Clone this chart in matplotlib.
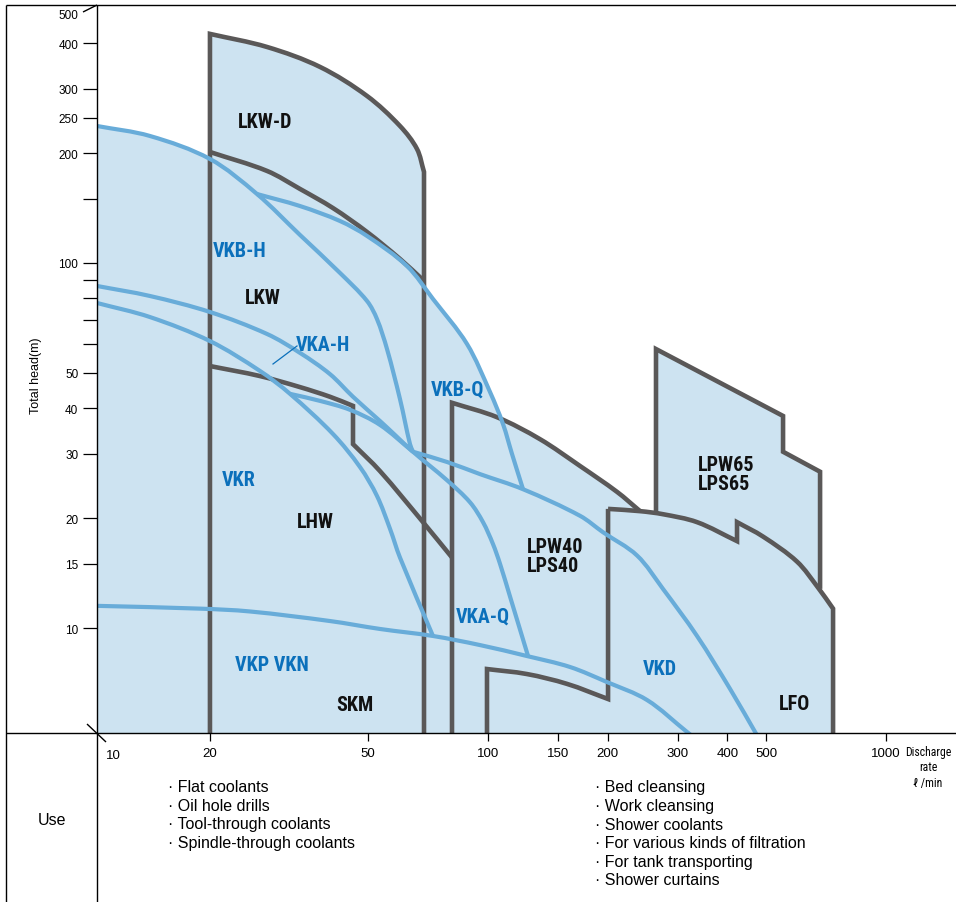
import matplotlib
matplotlib.use("Agg")
import matplotlib.pyplot as plt
import numpy as np
from matplotlib.path import Path
from matplotlib.patches import PathPatch
from matplotlib import font_manager
from matplotlib.font_manager import FontProperties

# -------------------------
# Axis ranges / ticks
# -------------------------

X_MIN, X_MAX = 10.4, 1502
Y_MIN, Y_MAX = 5.157, 509

x_ticks = [20, 50, 100, 150, 200, 300, 400, 500, 1000]
y_ticks = [10, 15, 20, 30, 40, 50, 60, 70, 80, 90, 100, 150, 200, 250, 300, 400]
y_labeled = [10, 15, 20, 30, 40, 50, 100, 200, 250, 300, 400]

# -------------------------
# Blue curves (discharge l/min, head m)
# -------------------------

vkbh_q = [10.4, 14.13, 20.0, 26.26, 33.69, 42.46, 49.64, 52.60, 55.74, 60.08, 63.67, 64.78]
vkbh_h = [237.3, 222.8, 192.7, 154.5, 119.3, 93.9, 78.7, 70.2, 58.1, 42.4, 31.9, 30.4]

vkbq_q = [26.26, 33.69, 42.46, 49.64, 62.57, 72.73, 88.56, 101.2, 109.1, 114.9, 122.5]
vkbq_h = [154.5, 143.2, 130.3, 118.6, 98.1, 79.7, 60.0, 44.3, 36.2, 30.0, 24.0]

vka_q = [10.4, 14.13, 20.0, 27.83, 33.69, 40.07, 45.78, 53.53, 58.37, 64.78,
         78.89, 90.12, 97.16, 102.9, 107.2, 113.6, 126.1]
vka_h = [86.5, 81.2, 73.4, 63.9, 56.7, 49.6, 43.0, 36.9, 33.8, 30.4,
         25.4, 22.1, 19.5, 17.0, 15.0, 12.2, 8.38]

vkr_q = [10.4, 14.13, 20.0, 26.72, 31.79, 40.77, 47.67, 52.60, 56.71, 60.08, 72.73]
vkr_h = [77.7, 71.1, 61.1, 50.6, 43.8, 34.0, 27.6, 23.0, 18.7, 15.6, 9.51]

vkaq_q = [31.79, 37.82, 45.00, 53.53, 64.78]
vkaq_h = [43.8, 41.9, 39.6, 36.0, 30.4]

vkd_q = [64.78, 78.89, 95.48, 122.5, 170.3, 194.6, 237.0, 275.4, 335.4, 406.1, 478.8]
vkd_h = [30.4, 28.5, 26.4, 24.0, 20.3, 18.3, 15.8, 12.8, 9.51, 6.81, 5.0]

vkp_q = [10.4, 18.88, 25.21, 40.07, 53.53, 72.73, 95.48, 125.3, 160.8, 199.2, 251.1, 316.6, 330.7]
vkp_h = [11.5, 11.3, 11.1, 10.45, 9.94, 9.51, 8.98, 8.38, 7.82, 7.11, 6.35, 5.19, 5.0]

# -------------------------
# Grey outlines
# -------------------------

lkwd_q = [20, 20, 27.83, 37.82, 49.64, 60.08, 66.30, 69.05, 69.05]
lkwd_h = [5.0, 424.2, 390.6, 344.4, 286.8, 237.3, 205.3, 177.6, 5.0]

lkw_q = [20, 27.83, 33.69, 40.77, 49.64, 60.08, 69.05]
lkw_h = [201.4, 178.7, 159.5, 141.4, 121.6, 102.6, 89.3]

lhw_q = [20, 26.72, 33.69, 40.07, 45.78, 45.78, 53.53, 68.65, 81.2]
lhw_h = [52.2, 49.0, 45.7, 43.0, 40.6, 31.9, 26.9, 19.5, 15.6]

lpw40_q = [81.2, 81.2, 105.4, 135.2, 170.3, 211.1, 241.2]
lpw40_h = [5.0, 41.4, 37.8, 32.9, 27.8, 23.6, 20.9]

skm_q = [99.43, 99.43, 125.3, 158.0, 200.4, 200.4]
skm_h = [5.0, 7.72, 7.48, 7.03, 6.39, 21.2]

lfo_q = [200.4, 241.2, 275.4, 335.4, 422.8, 422.8, 491.6, 598.4, 675.9, 737.2, 737.2]
lfo_h = [21.2, 20.9, 20.5, 19.5, 17.3, 19.5, 17.8, 15.2, 12.9, 11.3, 5.0]

lpw65_q = [264.5, 264.5, 551.9, 551.9, 683.8, 683.8]
lpw65_h = [20.6, 58.1, 38.1, 30.4, 26.8, 12.8]

use_left = ["· Flat coolants", "· Oil hole drills", "· Tool-through coolants",
            "· Spindle-through coolants"]
use_right = ["· Bed cleansing", "· Work cleansing", "· Shower coolants",
             "· For various kinds of filtration", "· For tank transporting",
             "· Shower curtains"]

# -------------------------
# Styles
# -------------------------

FILL = "#cde3f1"
GREY = "#5a5858"
BLUE = "#68acd9"
BLUE_TXT = "#0b70bb"
SANS = ["Liberation Sans", "DejaVu Sans"]
plt.rcParams["font.family"] = SANS


def pick_narrow():
    # first condensed face that is really installed
    for fam in ["Liberation Sans Narrow", "Roboto Condensed", "DejaVu Sans Condensed",
                "Arial Narrow", "Nimbus Sans Narrow"]:
        try:
            font_manager.findfont(FontProperties(family=fam, weight="bold"),
                                  fallback_to_default=False)
            return fam, True
        except ValueError:
            pass
    path = font_manager.findfont(FontProperties(family="DejaVu Sans", stretch="condensed",
                                                weight="bold"))
    if "Condensed" in path:
        return "DejaVu Sans", True
    return "Liberation Sans", False


NARROW_FAM, HAS_NARROW = pick_narrow()
NARROW = [NARROW_FAM, "Liberation Sans", "DejaVu Sans"]
LABEL_SIZE = 14.5 if HAS_NARROW else 12

W, H = 956, 903
fig = plt.figure(figsize=(W / 100, H / 100), dpi=100)

ax_box = [97 / W, (H - 734) / H, (W - 97) / W, (734 - 6) / H]
ax = fig.add_axes(ax_box)
ax.set_xscale("log")
ax.set_yscale("log")
ax.set_xlim(X_MIN, X_MAX)
ax.set_ylim(Y_MIN, Y_MAX)
for s in ax.spines.values():
    s.set_visible(False)
ax.set_facecolor("none")

# pixels per decade, so the curve smoothing is done in screen proportions
SX = ax_box[2] * W / np.log10(X_MAX / X_MIN)
SY = ax_box[3] * H / np.log10(Y_MAX / Y_MIN)


def smooth(q, h, corners=()):
    P = np.column_stack([np.log10(q) * SX, np.log10(h) * SY])
    n = len(P)
    verts = [P[0]]
    codes = [Path.MOVETO]
    for i in range(n - 1):
        a, b = P[i], P[i + 1]
        d = np.hypot(*(b - a))
        ta = b - a if (i == 0 or i in corners) else P[i + 1] - P[i - 1]
        tb = b - a if (i + 1 == n - 1 or (i + 1) in corners) else P[i + 2] - P[i]
        ta = ta / np.hypot(*ta)
        tb = tb / np.hypot(*tb)
        verts += [a + ta * d / 3, b - tb * d / 3, b]
        codes += [Path.CURVE4] * 3
    V = np.array(verts)
    V[:, 0] = 10 ** (V[:, 0] / SX)
    V[:, 1] = 10 ** (V[:, 1] / SY)
    return V, codes


def closed(V, codes, extra_q, extra_h):
    V = np.vstack([V, np.column_stack([extra_q, extra_h]), V[:1]])
    codes = codes + [Path.LINETO] * len(extra_q) + [Path.CLOSEPOLY]
    return Path(V, codes)


grey_lines = [
    (lkwd_q, lkwd_h, (1, 7)), (lkw_q, lkw_h, ()), (lhw_q, lhw_h, (4, 5)),
    (lpw40_q, lpw40_h, (1,)), (skm_q, skm_h, (1, 4)), (lfo_q, lfo_h, (4, 5, 9)),
    (lpw65_q, lpw65_h, tuple(range(len(lpw65_q)))),
]
blue_lines = [
    (vkbh_q, vkbh_h), (vkbq_q, vkbq_h), (vka_q, vka_h), (vkr_q, vkr_h),
    (vkaq_q, vkaq_h), (vkd_q, vkd_h), (vkp_q, vkp_h),
]

# fill regions
V, c = smooth(vkbh_q, vkbh_h)
fill_paths = [closed(V, c, [vkbh_q[-1], vkbh_q[0]], [5.0, 5.0])]
V, c = smooth(vkbq_q, vkbq_h)
fill_paths.append(closed(V, c, [vkbq_q[-1], vkbq_q[0]], [5.0, 5.0]))
V, c = smooth(lkwd_q, lkwd_h, (1, 7))
fill_paths.append(closed(V, c, [], []))
V, c = smooth(lpw40_q, lpw40_h, (1,))
fill_paths.append(closed(V, c, [lpw40_q[-1]], [5.0]))
V, c = smooth(lfo_q, lfo_h, (4, 5, 9))
fill_paths.append(closed(V, c, [lfo_q[0]], [5.0]))
V, c = smooth(lpw65_q, lpw65_h, tuple(range(len(lpw65_q))))
fill_paths.append(closed(V, c, [], []))
for p in fill_paths:
    ax.add_patch(PathPatch(p, facecolor=FILL, edgecolor="none", zorder=1))

for q, h, corners in grey_lines:
    V, c = smooth(q, h, corners)
    ax.add_patch(PathPatch(Path(V, c), fill=False, edgecolor=GREY, lw=3.3,
                           joinstyle="miter", capstyle="butt", zorder=2))

for q, h in blue_lines:
    V, c = smooth(q, h)
    ax.add_patch(PathPatch(Path(V, c), fill=False, edgecolor=BLUE, lw=3.0,
                           capstyle="butt", zorder=3))

# ticks
ax.set_xticks(x_ticks)
ax.set_xticklabels([str(v) for v in x_ticks])
ax.set_yticks(y_ticks)
ax.set_yticklabels([str(v) if v in y_labeled else "" for v in y_ticks])
ax.minorticks_off()
ax.tick_params(axis="y", length=10, width=0.9, pad=3.5, labelsize=8.5, color="black")
ax.tick_params(axis="x", length=6, width=0.9, pad=4, labelsize=9.5, color="black")

# -------------------------
# Overlay in pixel coordinates: frame, texts
# -------------------------

ov = fig.add_axes([0, 0, 1, 1], zorder=5)
ov.set_xlim(0, W)
ov.set_ylim(H, 0)
ov.axis("off")

frame_kw = dict(color="black", lw=1.0, solid_capstyle="butt")
ov.plot([6.5, 6.5], [6, H], **frame_kw)
ov.plot([6.5, W], [6, 6], **frame_kw)
ov.plot([6.5, W], [734, 734], **frame_kw)
ov.plot([97, 97], [6, H], **frame_kw)
# axis break marks
ov.plot([83, 97], [13, 6], **frame_kw)
ov.plot([87, 106], [725, 743], **frame_kw)

ov.text(78, 16, "500", ha="right", va="center", fontsize=8.5)
ov.text(113, 756, "10", ha="center", va="center", fontsize=9.5)
ov.text(36, 376, "Total head(m)", rotation=90, ha="center", va="center", fontsize=9)
ov.text(928, 768, "Discharge\nrate\nℓ /min", ha="center", va="center",
        fontsize=8.5 if HAS_NARROW else 7.5, family=NARROW, linespacing=1.25)

ov.text(52, 821, "Use", ha="center", va="center", fontsize=11.5)
for i, t in enumerate(use_left):
    ov.text(168, 788 + i * 18.5, t, ha="left", va="center", fontsize=11.5)
for i, t in enumerate(use_right):
    ov.text(595, 788 + i * 18.6, t, ha="left", va="center", fontsize=11.5)

black_labels = [
    ("LKW-D", 265, 122, "center"), ("LKW", 263, 299, "center"),
    ("LHW", 315, 523, "center"), ("SKM", 355, 706, "center"),
    ("LPW40\nLPS40", 527, 557, "left"), ("LPW65\nLPS65", 698, 475, "left"),
    ("LFO", 795, 705, "center"),
]
for t, x, y, ha in black_labels:
    ov.text(x, y, t, ha=ha, va="center", fontsize=LABEL_SIZE, fontweight="bold",
            family=NARROW, fontstretch="condensed", color="#111111", linespacing=1.0)

blue_labels = [
    ("VKB-H", 240, 252), ("VKA-H", 323, 346), ("VKR", 239, 481),
    ("VKB-Q", 457, 390), ("VKA-Q", 483, 617), ("VKD", 660, 670),
    ("VKP VKN", 272, 666),
]
for t, x, y in blue_labels:
    ov.text(x, y, t, ha="center", va="center", fontsize=LABEL_SIZE, fontweight="bold",
            family=NARROW, fontstretch="condensed", color=BLUE_TXT)

# VKA-H leader
ov.plot([273, 297], [365, 347], color=BLUE_TXT, lw=0.9)

fig.savefig("out.png", dpi=100)
